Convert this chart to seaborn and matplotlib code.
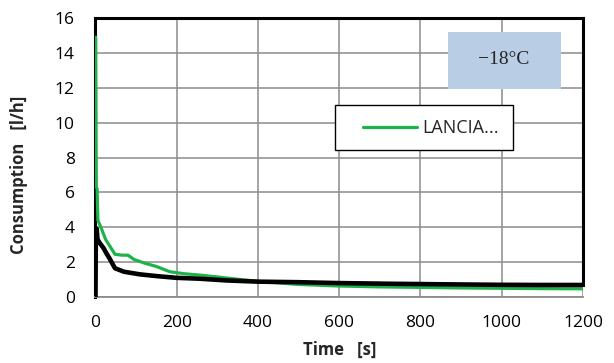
import numpy as np
import pandas as pd
import matplotlib
matplotlib.use('Agg')
import matplotlib.pyplot as plt
import seaborn as sns
from matplotlib.patches import Rectangle
from matplotlib.ticker import MultipleLocator
from matplotlib.legend_handler import HandlerLine2D

# Values
time_green = [0.5, 2, 4, 6, 15, 25, 48, 65, 80, 95, 120, 150, 183, 220, 256, 300, 350, 400,
              500, 600, 700, 800, 900, 1000, 1100, 1200]
cons_green = [14.9, 6.3, 6.2, 4.4, 3.9, 3.3, 2.45, 2.4, 2.4, 2.15, 1.95, 1.75, 1.45, 1.33, 1.26,
              1.15, 1.02, 0.9, 0.72, 0.63, 0.58, 0.55, 0.52, 0.5, 0.48, 0.47]

time_black = [0, 1, 3, 5, 11, 20, 27, 35, 42, 48, 70, 109, 150, 199, 256, 322, 400, 500, 596,
              723, 850, 993, 1100, 1200]
cons_black = [0, 3.94, 3.9, 3.3, 3.08, 2.8, 2.5, 2.2, 1.9, 1.65, 1.45, 1.3, 1.2, 1.1, 1.05,
              0.95, 0.88, 0.85, 0.8, 0.76, 0.73, 0.7, 0.69, 0.69]

label_green = 'LANCIA...'
temp_text = '\u221218\u00b0C'

df_green = pd.DataFrame({'time': time_green, 'cons': cons_green})
df_black = pd.DataFrame({'time': time_black, 'cons': cons_black})


class ShortLine(HandlerLine2D):
    # legend line drawn only on the right part of the handle area
    def get_xdata(self, legend, xdescent, ydescent, width, height, fontsize):
        xdata = np.array([-xdescent + 0.22 * width, -xdescent + width])
        return xdata, xdata


sns.set_style('white')
plt.rcParams['font.family'] = ['Open Sans', 'DejaVu Sans']

fig, ax = plt.subplots(figsize=(6.14, 3.63), dpi=100)
fig.subplots_adjust(left=0.1555, right=0.9495, top=0.9504, bottom=0.1818)

sns.lineplot(data=df_green, x='time', y='cons', ax=ax, color='#1db34a', linewidth=2.3,
             label=label_green, zorder=3, sort=False)
sns.lineplot(data=df_black, x='time', y='cons', ax=ax, color='black', linewidth=3.3,
             label='_nolegend_', zorder=4, sort=False)

ax.set_xlim(0, 1200)
ax.set_ylim(0, 16)
ax.xaxis.set_major_locator(MultipleLocator(200))
ax.xaxis.set_minor_locator(MultipleLocator(60))
ax.yaxis.set_major_locator(MultipleLocator(2))
ax.grid(True, which='major', color='#8c8c8c', linewidth=1.1, zorder=0)
ax.set_axisbelow(True)

ax.tick_params(axis='both', which='major', length=0, labelsize=12.5, colors='black')
ax.tick_params(axis='y', which='major', pad=15)
ax.tick_params(axis='x', which='major', pad=13)
ax.tick_params(axis='x', which='minor', direction='in', length=3, width=1, color='#8c8c8c')

for side in ['top', 'left', 'right']:
    ax.spines[side].set_color('black')
    ax.spines[side].set_linewidth(2.2)
    ax.spines[side].set_visible(True)
ax.spines['bottom'].set_color('#8c8c8c')
ax.spines['bottom'].set_linewidth(1.3)
ax.spines['right'].set_bounds(cons_black[-1], 16)

ax.set_xlabel('Time   [s]', fontsize=12, fontweight='bold')
ax.set_ylabel('Consumption   [l/h]', fontsize=12, fontweight='bold')
ax.xaxis.set_label_coords(0.5, -0.158)
ax.yaxis.set_label_coords(-0.138, 0.437)

leg = ax.legend(loc='upper left', bbox_to_anchor=(0.491, 0.687), frameon=True, fancybox=False,
                fontsize=13, handlelength=3.8, borderpad=0.75, handletextpad=0.3,
                borderaxespad=0, handler_map={plt.Line2D: ShortLine()})
leg.get_frame().set_edgecolor('black')
leg.get_frame().set_linewidth(1.0)
leg.get_frame().set_alpha(1)
for line in leg.get_lines():
    line.set_linewidth(2.3)

box = Rectangle((0.724, 0.745), 0.231, 0.205, transform=ax.transAxes,
                facecolor='#b9cde5', edgecolor='none', zorder=5)
ax.add_patch(box)
ax.text(0.838, 0.85, temp_text, transform=ax.transAxes, ha='center', va='center',
        fontsize=14, family=['Liberation Serif', 'DejaVu Serif'], zorder=6)

fig.savefig('out.png', dpi=100)
